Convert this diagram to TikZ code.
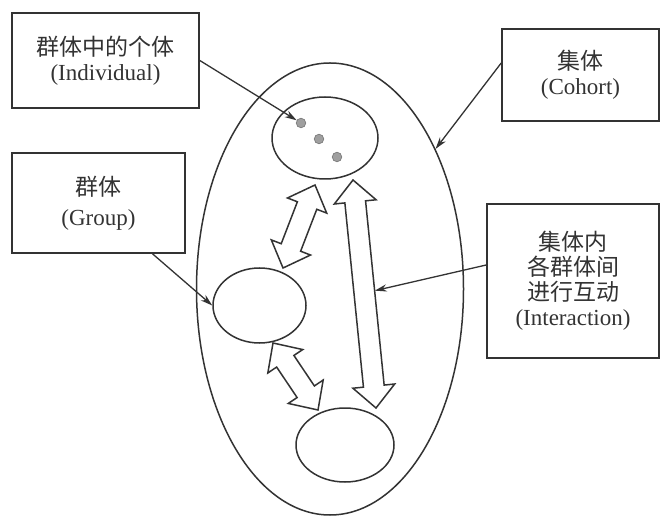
\documentclass[tikz,border=0pt]{standalone}
\usepackage{fontspec}
\setmainfont{Liberation Serif}
\newfontfamily\cjk{Noto Sans CJK SC}
\usetikzlibrary{shapes.geometric,calc,arrows.meta}
\definecolor{ink}{HTML}{333333}
\newcommand\blockarrow[2]{%
  \coordinate (h1) at ($(#1)!11pt!(#2)$);
  \coordinate (h2) at ($(#2)!11pt!(#1)$);
  \draw[blk] (#1) -- ($(h1)!10.5pt!90:(#2)$) -- ($(h1)!5.2pt!90:(#2)$)
    -- ($(h2)!5.2pt!-90:(#1)$) -- ($(h2)!10.5pt!-90:(#1)$) -- (#2)
    -- ($(h2)!10.5pt!90:(#1)$) -- ($(h2)!5.2pt!90:(#1)$)
    -- ($(h1)!5.2pt!-90:(#2)$) -- ($(h1)!10.5pt!-90:(#2)$) -- cycle;}
\begin{document}
\begin{tikzpicture}[x=0.5pt,y=-0.5pt,
  box/.style={draw=ink,line width=0.8pt,inner sep=0pt,align=center,text=ink,
    font=\fontsize{11.5}{12.5}\selectfont},
  oval/.style={draw=ink,ellipse,line width=0.75pt,inner sep=0pt},
  conn/.style={draw=ink,line width=0.65pt,-{Stealth[length=6pt,width=3.6pt]}},
  blk/.style={draw=ink,line width=0.75pt,fill=white,line join=miter},
  dot/.style={circle,fill=gray!75,draw=gray!90!black,line width=0.3pt,
    minimum size=4.8pt,inner sep=0pt}]
\useasboundingbox (0,0) rectangle (662,517);
\fill[white] (0,0) rectangle (662,517);

% ovals
\node[oval,minimum width=133.5pt,minimum height=226pt] (outer) at (330,289) {};
\node[oval,minimum width=53pt,minimum height=41pt] (e1) at (325,138) {};
\node[oval,minimum width=46.5pt,minimum height=37.5pt] (e2) at (259.5,305.5) {};
\node[oval,minimum width=49pt,minimum height=37pt] (e3) at (345,445) {};

% dots
\node[dot] (dot1) at (301,123) {};
\node[dot] (dot2) at (319,139) {};
\node[dot] (dot3) at (337,157) {};

% block double arrows
\coordinate (a1) at (315,185); \coordinate (b1) at (283,268);
\coordinate (a2) at (273,343); \coordinate (b2) at (318,410);
\coordinate (a3) at (353,180); \coordinate (b3) at (376,408);
\blockarrow{a1}{b1}
\blockarrow{a2}{b2}
\blockarrow{a3}{b3}
\coordinate (m3) at ($(a3)!0.49!(b3)$);
\coordinate (ia) at ($(m3)!5.3pt!90:(b3)$);

% label boxes
\node[box,minimum width=93.5pt,minimum height=47.5pt] (ind) at (105.5,60.5)
  {{\cjk 群体中的个体}\\(Individual)};
\node[box,minimum width=78.5pt,minimum height=46pt] (coh) at (580.5,75)
  {{\cjk 集体}\\(Cohort)};
\node[box,minimum width=86.5pt,minimum height=50pt] (grp) at (98.5,203)
  {{\cjk 群体}\\[2.5pt](Group)};
\node[box,minimum width=86pt,minimum height=77pt] (inter) at (573,281)
  {{\cjk 集体内}\\{\cjk 各群体间}\\{\cjk 进行互动}\\(Interaction)};

% connectors
\draw[conn] (ind.east) -- (dot1);
\draw[conn] ([yshift=6pt]coh.west) -- (outer.53);
\draw[conn] ([xshift=27pt]grp.south) -- (e2.west);
\draw[conn] ([yshift=8pt]inter.west) -- (ia);
\end{tikzpicture}
\end{document}
